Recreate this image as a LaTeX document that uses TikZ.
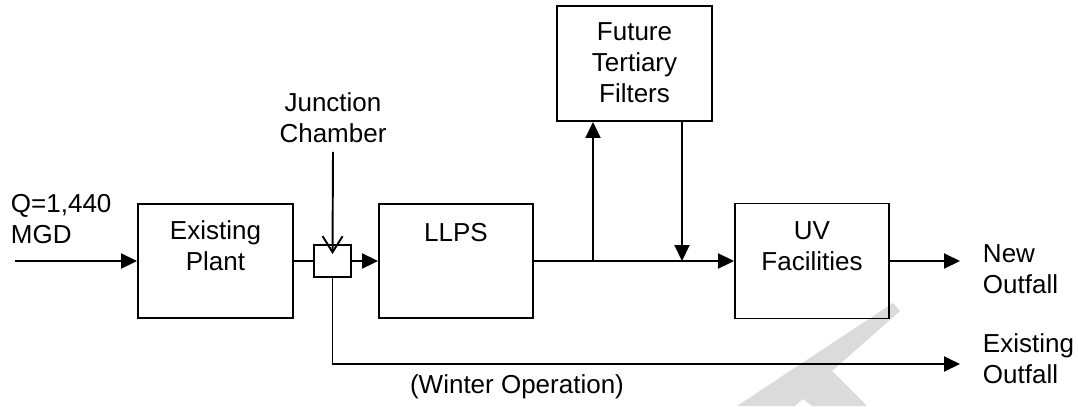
\documentclass[tikz,border=0pt]{standalone}
\usepackage{fontspec}
\setmainfont{Liberation Sans}
\usetikzlibrary{arrows.meta}
\tikzset{
  unit/.style={draw, line width=1.1pt, inner sep=0pt},
  lbl/.style={align=center, inner sep=0pt, font=\fontsize{14.8}{17.5}\selectfont},
}

\begin{document}
\begin{tikzpicture}[x=0.02cm, y=-0.02cm, line width=1.1pt, >={Triangle[length=0.32cm,width=0.3cm]}]
  \useasboundingbox (0,0) rectangle (1078,406);
  \fill[black!14] (893,303) -- (900,311) -- (832,371) -- (867,406) -- (812,406) -- (803,399) -- (795,406) -- (737,406) -- cycle;

  \node[unit, minimum width=3.1cm, minimum height=2.28cm] (plant) at (215.5,261) {};
  \node[unit, minimum width=0.74cm, minimum height=0.64cm] (jc) at (332.5,261) {};
  \node[unit, minimum width=3.08cm, minimum height=2.28cm] (llps) at (456,261) {};
  \node[unit, minimum width=3.1cm, minimum height=2.3cm] (filt) at (634.5,63.5) {};
  \node[unit, minimum width=3.08cm, minimum height=2.3cm] (uv) at (812,261) {};

  \node[lbl] (plantlbl) at (215.5,246) {Existing\\Plant};
  \node[lbl] (llpslbl) at (456,233) {LLPS};
  \node[lbl] (filtlbl) at (634.5,62.5) {Future\\Tertiary\\Filters};
  \node[lbl] (uvlbl) at (812,246) {UV\\Facilities};
  \node[lbl] (jclbl) at (333,118) {Junction\\Chamber};
  \node[lbl, anchor=west, align=left] (qlbl) at (10,219) {Q=1,440\\MGD};
  \node[lbl, anchor=west, align=left] (newlbl) at (982,269) {New\\Outfall};
  \node[lbl, anchor=west, align=left] (exlbl) at (982,359) {Existing\\Outfall};
  \node[lbl] (winter) at (517,387) {(Winter Operation)};

  \coordinate (qin) at (15,261);
  \coordinate (up) at (593,261);
  \coordinate (down) at (682,261);
  \coordinate (newend) at (960,261);
  \coordinate (exend) at (960,364);

  \draw[->] (qin) -- (plant);
  \draw (plant) -- (jc);
  \draw[->] (jc) -- (llps);
  \draw (llps) -- (up);
  \draw[->] (up) -- (uv);
  \draw[->] (up) -- (up |- filt.south);
  \draw[->] (down |- filt.south) -- (down);
  \draw[->] (uv) -- (newend);
  \draw[->] (jc.south) |- (exend);
  \draw[-{Straight Barb[length=0.32cm,width=0.4cm]}] ([yshift=-0.16cm]jclbl.south) -- ([yshift=0.14cm]jc.center);
\end{tikzpicture}
\end{document}
